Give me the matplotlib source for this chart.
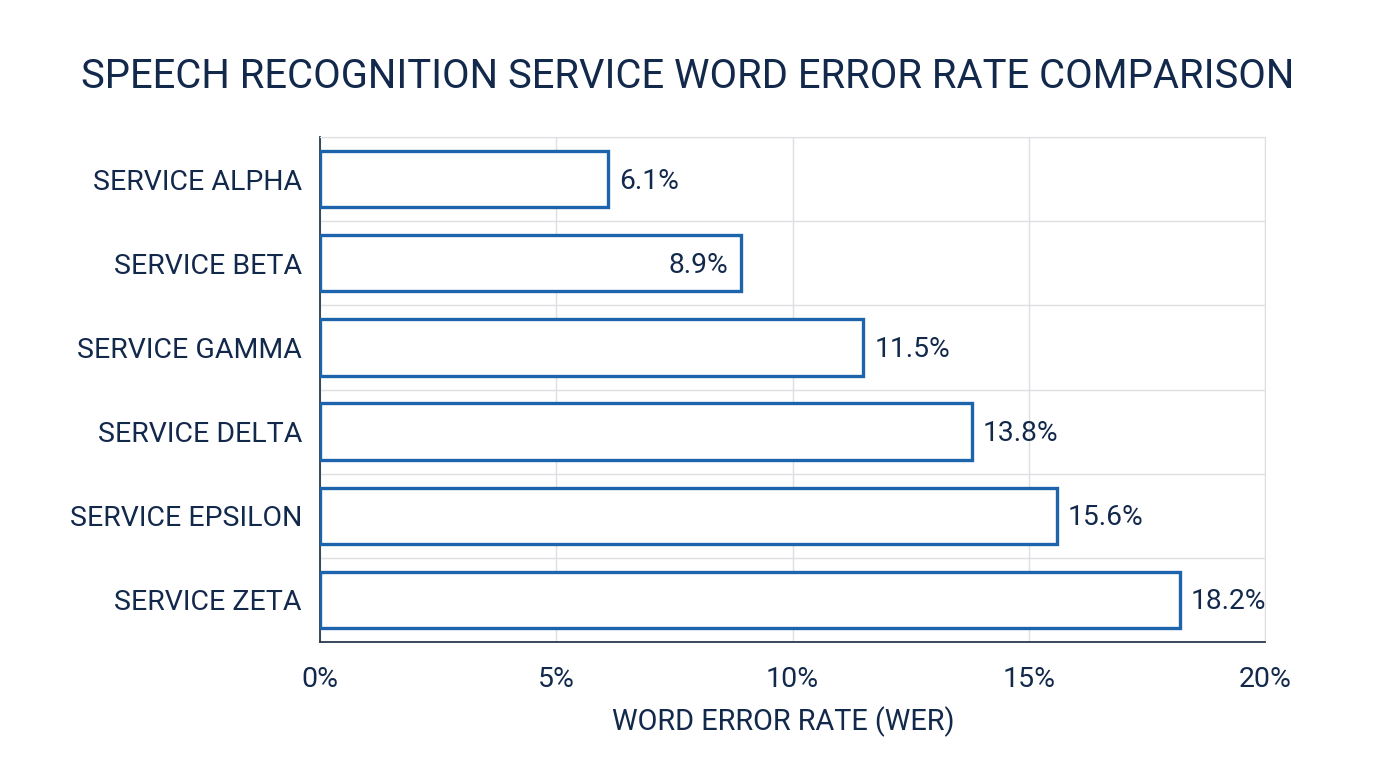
import matplotlib
matplotlib.use("Agg")
import matplotlib.pyplot as plt
from matplotlib.ticker import FuncFormatter, MultipleLocator
import numpy as np

services = ["SERVICE ALPHA", "SERVICE BETA", "SERVICE GAMMA", "SERVICE DELTA", "SERVICE EPSILON", "SERVICE ZETA"]
wer = [6.1, 8.9, 11.5, 13.8, 15.6, 18.2]
inside_label = [False, True, False, False, False, False]

plt.rcParams['font.family'] = ['Roboto', 'DejaVu Sans']
navy = "#13294b"
blue = "#1c64ab"
grid = "#dcdfe3"

fig = plt.figure(figsize=(13.76, 7.68), dpi=100)
ax = fig.add_axes([320/1376, 1-642/768, (1265-320)/1376, (642-137)/768])

y = np.arange(len(services))
ax.barh(y, wer, height=0.67, facecolor="white", edgecolor=blue, linewidth=2.4, zorder=3)
ax.set_ylim(len(services)-0.5, -0.5)
ax.set_xlim(0, 20)

ax.xaxis.set_major_locator(MultipleLocator(5))
ax.xaxis.set_major_formatter(FuncFormatter(lambda v, p: f"{v:.0f}%"))
ax.set_yticks(y)
ax.set_yticklabels(services)
ax.set_yticks(np.arange(-0.5, len(services)), minor=True)
ax.grid(axis="x", which="major", color=grid, linewidth=1, zorder=0)
ax.grid(axis="y", which="minor", color=grid, linewidth=1, zorder=0)
ax.tick_params(axis="both", which="both", length=0, colors=navy, labelsize=20.5)
ax.tick_params(axis="x", pad=17)
ax.tick_params(axis="y", pad=13)

for s in ["top", "right"]:
    ax.spines[s].set_color(grid)
for s in ["left", "bottom"]:
    ax.spines[s].set_color("#2a3a4d")
    ax.spines[s].set_linewidth(1.3)

for yi, v, inside in zip(y, wer, inside_label):
    if inside:
        ax.annotate(f"{v}%", (v, yi), xytext=(-12, -2), textcoords="offset pixels",
                    ha="right", va="center", fontsize=20.3, color=navy, zorder=4)
    else:
        ax.annotate(f"{v}%", (v, yi), xytext=(11, -2), textcoords="offset pixels",
                    ha="left", va="center", fontsize=20.3, color=navy, zorder=4)

ax.set_xlabel("WORD ERROR RATE (WER)", fontsize=20.8, color=navy, labelpad=16)
ax.xaxis.set_label_coords((783-320)/(1265-320), -0.13)
ax.xaxis.label.set_va("center")
ax.xaxis.set_label_coords((783-320)/(1265-320), -(722-642)/(642-137))
fig.text(0.5, 1-76/768, "SPEECH RECOGNITION SERVICE WORD ERROR RATE COMPARISON",
         ha="center", va="center", fontsize=28.8, color=navy)

fig.savefig("out.png", dpi=100, facecolor="white")
